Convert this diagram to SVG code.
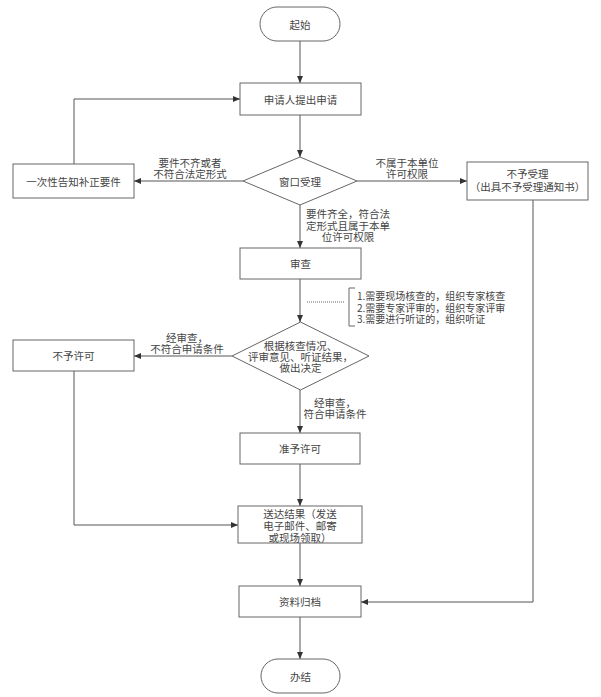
<svg xmlns="http://www.w3.org/2000/svg" width="601" height="697" viewBox="0 0 601 697">
<defs>
<marker id="arr" markerWidth="8" markerHeight="8" refX="7" refY="4" orient="auto" markerUnits="userSpaceOnUse">
<path d="M0,1 L7,4 L0,7 Z" fill="#333"/>
</marker>
<style>
.box{fill:#fff;stroke:#666;stroke-width:1}
.ln{fill:none;stroke:#555;stroke-width:1;marker-end:url(#arr)}
text{font-family:"Noto Sans CJK SC","Liberation Sans",sans-serif;font-size:10.5px;fill:#444;text-anchor:middle;dominant-baseline:central}
.lab{font-size:10.5px}
.note{text-anchor:start;font-size:10px}
</style>
</defs>
<rect width="601" height="697" fill="#fff"/>
<g id="connectors">
<path class="ln" d="M300,41 V83"/>
<path class="ln" d="M300,115 V157"/>
<path class="ln" d="M243,181 H134"/>
<path class="ln" d="M74,164 V99 H240"/>
<path class="ln" d="M357,181 H467"/>
<path class="ln" d="M300,205 V248"/>
<path class="ln" d="M300,279 V322"/>
<path class="ln" d="M232,356 H134"/>
<path class="ln" d="M300,390 V433"/>
<path class="ln" d="M300,464 V506"/>
<path class="ln" d="M74,371 V525 H238"/>
<path class="ln" d="M300,543 V586"/>
<path class="ln" d="M533,200 V602 H361"/>
<path class="ln" d="M300,617 V659"/>
<text class="lab" x="190" y="162">要件不齐或者</text>
<text class="lab" x="190" y="173">不符合法定形式</text>
<text class="lab" x="407" y="162">不属于本单位</text>
<text class="lab" x="407" y="173">许可权限</text>
<text class="lab" x="348" y="213">要件齐全，符合法</text>
<text class="lab" x="348" y="225">定形式且属于本单</text>
<text class="lab" x="348" y="236">位许可权限</text>
<text class="lab" x="187" y="337">经审查，</text>
<text class="lab" x="187" y="348">不符合申请条件</text>
<text class="lab" x="335" y="402">经审查，</text>
<text class="lab" x="335" y="413">符合申请条件</text>
</g>
<g id="start"><rect class="box" x="260" y="7" width="80" height="34" rx="17"/><text x="300" y="24">起始</text></g>
<g id="apply"><rect class="box" x="240" y="83" width="121" height="32"/><text x="300.5" y="99">申请人提出申请</text></g>
<g id="correct"><rect class="box" x="13" y="164" width="121" height="34"/><text x="73.5" y="181">一次性告知补正要件</text></g>
<g id="window"><path class="box" d="M300,157 L357,181 L300,205 L243,181 Z"/><text x="300" y="181">窗口受理</text></g>
<g id="reject"><rect class="box" x="467" y="162" width="121" height="38"/><text x="527.5" y="173">不予受理</text><text x="527.5" y="186">（出具不予受理通知书）</text></g>
<g id="review"><rect class="box" x="240" y="248" width="121" height="31"/><text x="300.5" y="263.5">审查</text></g>
<g id="note">
<path d="M307,302 H345" fill="none" stroke="#666" stroke-width="1" stroke-dasharray="1,1"/>
<path d="M355,288 H349 V326 H355" fill="none" stroke="#666" stroke-width="1"/>
<text class="note" x="357" y="295">1.需要现场核查的，组织专家核查</text>
<text class="note" x="357" y="307">2.需要专家评审的，组织专家评审</text>
<text class="note" x="357" y="318">3.需要进行听证的，组织听证</text>
</g>
<g id="decide"><path class="box" d="M300.5,322 L369,356 L300.5,390 L232,356 Z"/><text x="300.5" y="345">根据核查情况、</text><text x="300.5" y="356">评审意见、听证结果，</text><text x="300.5" y="367">做出决定</text></g>
<g id="deny"><rect class="box" x="13" y="340" width="121" height="31"/><text x="73.5" y="355.5">不予许可</text></g>
<g id="grant"><rect class="box" x="240" y="433" width="120" height="31"/><text x="300" y="448.5">准予许可</text></g>
<g id="deliver"><rect class="box" x="238" y="506" width="124" height="37"/><text x="300" y="513">送达结果（发送</text><text x="300" y="525">电子邮件、邮寄</text><text x="300" y="537">或现场领取）</text></g>
<g id="archive"><rect class="box" x="239" y="586" width="122" height="31"/><text x="300" y="601.5">资料归档</text></g>
<g id="end"><rect class="box" x="261" y="659" width="79" height="34" rx="17"/><text x="300.5" y="676">办结</text></g>
</svg>
